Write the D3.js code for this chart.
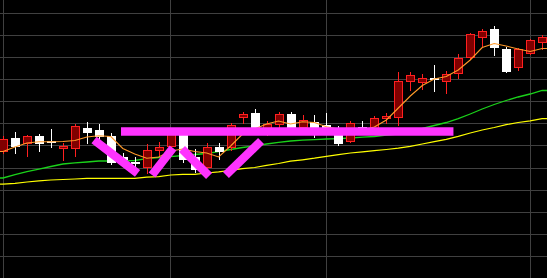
<!DOCTYPE html>
<html><head><meta charset="utf-8">
<script src="https://cdn.jsdelivr.net/npm/d3@7/dist/d3.min.js"></script>
<style>html,body{margin:0;padding:0;background:#000;overflow:hidden}svg{display:block}</style>
</head><body>
<svg id="chart" width="547" height="278"></svg>
<script>
// ---- data (trading-day index 0..45) ----
const days = d3.range(46);
const opens  = [10.48,10.62,10.56,10.64,10.59,10.51,10.51,10.72,10.70,10.64,10.43,10.38,10.32,10.49,10.53,10.67,10.43,10.32,10.53,10.52,10.82,10.87,10.67,10.75,10.86,10.72,10.78,10.75,10.72,10.58,10.73,10.70,10.81,10.82,11.18,11.17,11.22,11.18,11.26,11.42,11.62,11.71,11.51,11.32,11.46,11.57];
const closes = [10.61,10.53,10.64,10.56,10.57,10.54,10.74,10.67,10.63,10.37,10.40,10.36,10.50,10.53,10.69,10.40,10.30,10.53,10.48,10.75,10.86,10.70,10.76,10.86,10.72,10.80,10.72,10.72,10.56,10.77,10.72,10.82,10.84,11.19,11.25,11.22,11.21,11.26,11.42,11.66,11.69,11.52,11.28,11.51,11.60,11.63];
const highs  = [10.64,10.68,10.65,10.66,10.71,10.57,10.76,10.78,10.76,10.67,10.47,10.43,10.56,10.58,10.72,10.70,10.51,10.57,10.57,10.77,10.88,10.91,10.79,10.88,10.88,10.85,10.85,10.87,10.74,10.79,10.79,10.84,10.87,11.28,11.28,11.26,11.35,11.29,11.46,11.67,11.71,11.74,11.53,11.52,11.61,11.65];
const lows   = [10.47,10.47,10.44,10.49,10.53,10.40,10.44,10.57,10.61,10.36,10.37,10.33,10.27,10.45,10.50,10.38,10.28,10.27,10.41,10.50,10.77,10.67,10.65,10.71,10.69,10.70,10.63,10.70,10.55,10.58,10.70,10.69,10.77,10.75,11.10,11.11,11.09,11.07,11.22,11.41,11.54,11.45,11.28,11.30,11.46,11.51];
const maShort = [10.485,10.53,10.57,10.583,10.583,10.585,10.595,10.63,10.643,10.635,10.515,10.46,10.417,10.43,10.49,10.51,10.485,10.47,10.43,10.54,10.66,10.71,10.76,10.79,10.76,10.783,10.775,10.733,10.71,10.70,10.70,10.73,10.80,10.92,11.04,11.145,11.21,11.235,11.30,11.40,11.525,11.565,11.54,11.51,11.485,11.515];
const maMid = [10.22,10.253,10.283,10.308,10.335,10.36,10.372,10.38,10.39,10.39,10.39,10.395,10.413,10.425,10.434,10.445,10.455,10.465,10.483,10.505,10.525,10.542,10.56,10.576,10.59,10.598,10.603,10.61,10.614,10.62,10.628,10.635,10.65,10.66,10.695,10.715,10.745,10.775,10.813,10.86,10.91,10.955,10.995,11.03,11.06,11.095];
const maLong = [10.158,10.167,10.18,10.192,10.20,10.205,10.21,10.217,10.217,10.217,10.217,10.217,10.228,10.234,10.25,10.257,10.257,10.27,10.282,10.297,10.314,10.325,10.346,10.365,10.388,10.402,10.418,10.437,10.454,10.47,10.482,10.494,10.505,10.518,10.537,10.56,10.584,10.607,10.637,10.67,10.70,10.725,10.753,10.775,10.792,10.813];
const gridPrices = [11.87,11.65,11.43,11.21,10.99,10.77,10.55,10.32,10.10,9.88,9.66,9.44];
const gridDays = [0,14,27,44];
// hand-drawn annotations (day index, price)
const levelFrom = 9.85, levelTo = 37.6, levelPrice = 10.685;
const wStart = [[7.60,10.600],[12.44,10.25],[14.94,10.51],[18.61,10.25]];
const wEnd   = [[11.23,10.267],[14.19,10.52],[17.20,10.24],[21.54,10.59]];

// ---- drawing ----
const W = 547, H = 278;
const svg = d3.select('#chart');
svg.append('rect').attr('width', W).attr('height', H).attr('fill', '#000');

const x = d3.scaleLinear().domain([0, 45]).range([3, 3 + 45 * 11.98]);
const y = d3.scaleLinear().domain([9.22, 12]).range([H, 0]);
const px = v => Math.floor(x(v)) + 0.5;

const grid = svg.append('g').attr('stroke', '#404040').attr('stroke-width', 1).attr('shape-rendering', 'crispEdges');
grid.selectAll('line.h').data(gridPrices).join('line').attr('class', 'h')
  .attr('x1', 0).attr('x2', W).attr('y1', d => Math.round(y(d)) + 0.5).attr('y2', d => Math.round(y(d)) + 0.5);
grid.selectAll('line.v').data(gridDays).join('line').attr('class', 'v')
  .attr('y1', 0).attr('y2', H).attr('x1', d => px(d)).attr('x2', d => px(d));

// moving-average paths, carried flat to the plot edges
const lineGen = arr => {
  const pts = arr.map((d, i) => [x(i), y(d)]);
  pts.unshift([0, pts[0][1]]);
  pts.push([W, pts[pts.length - 1][1]]);
  return d3.line()(pts);
};
svg.append('path').attr('d', lineGen(maLong)).attr('fill', 'none').attr('stroke', '#ffff00').attr('stroke-width', 1.2);
svg.append('path').attr('d', lineGen(maMid)).attr('fill', 'none').attr('stroke', '#1ad21a').attr('stroke-width', 1.3);

const candles = days.map(i => ({i, o: opens[i], c: closes[i], h: highs[i], l: lows[i]}));
const cg = svg.append('g').attr('shape-rendering', 'crispEdges');
candles.forEach(d => {
  const up = d.c >= d.o;
  const cx = Math.round(x(d.i));
  const col = up ? '#ff2020' : '#ffffff';
  cg.append('line').attr('x1', cx + 0.5).attr('x2', cx + 0.5)
    .attr('y1', Math.round(y(d.h))).attr('y2', Math.round(y(d.l)) + 1)
    .attr('stroke', col).attr('stroke-width', 1);
  const top = Math.round(y(Math.max(d.o, d.c)));
  const bot = Math.round(y(Math.min(d.o, d.c)));
  if (up) {
    cg.append('rect').attr('x', cx - 4 + 0.5).attr('y', top + 0.5)
      .attr('width', 8).attr('height', Math.max(bot - top - 1, 1))
      .attr('fill', '#800000').attr('stroke', '#ff2020').attr('stroke-width', 1);
  } else {
    cg.append('rect').attr('x', cx - 4).attr('y', top)
      .attr('width', 9).attr('height', Math.max(bot - top, 1.5))
      .attr('fill', '#ffffff');
  }
});

svg.append('path').attr('d', lineGen(maShort)).attr('fill', 'none').attr('stroke', '#ff9a2a').attr('stroke-width', 1.1);

const pink = '#ff33ff';
svg.append('line').attr('x1', x(levelFrom)).attr('x2', x(levelTo))
  .attr('y1', y(levelPrice)).attr('y2', y(levelPrice))
  .attr('stroke', pink).attr('stroke-width', 8.5).attr('stroke-linecap', 'butt');
wStart.forEach((s, k) => {
  const e = wEnd[k];
  svg.append('line').attr('x1', x(s[0])).attr('y1', y(s[1])).attr('x2', x(e[0])).attr('y2', y(e[1]))
    .attr('stroke', pink).attr('stroke-width', 8.5).attr('stroke-linecap', 'butt');
});
</script>
</body></html>
